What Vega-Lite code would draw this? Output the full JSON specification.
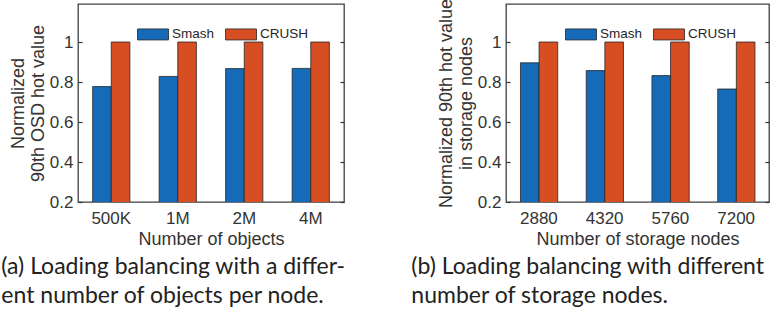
{
  "$schema": "https://vega.github.io/schema/vega-lite/v6.json",
  "padding": {"left": 0, "top": -3, "right": 5, "bottom": 0},
  "background": "white",
  "datasets": {
    "a": [
      {"cat": "500K", "method": "Smash", "v": 0.777},
      {"cat": "500K", "method": "CRUSH", "v": 1.0},
      {"cat": "1M", "method": "Smash", "v": 0.828},
      {"cat": "1M", "method": "CRUSH", "v": 1.0},
      {"cat": "2M", "method": "Smash", "v": 0.867},
      {"cat": "2M", "method": "CRUSH", "v": 1.0},
      {"cat": "4M", "method": "Smash", "v": 0.868},
      {"cat": "4M", "method": "CRUSH", "v": 1.0}
    ],
    "b": [
      {"cat": "2880", "method": "Smash", "v": 0.896},
      {"cat": "2880", "method": "CRUSH", "v": 1.0},
      {"cat": "4320", "method": "Smash", "v": 0.857},
      {"cat": "4320", "method": "CRUSH", "v": 1.0},
      {"cat": "5760", "method": "Smash", "v": 0.832},
      {"cat": "5760", "method": "CRUSH", "v": 1.0},
      {"cat": "7200", "method": "Smash", "v": 0.765},
      {"cat": "7200", "method": "CRUSH", "v": 1.0}
    ]
  },
  "config": {
    "font": "Liberation Sans",
    "view": {"stroke": "#404040", "strokeWidth": 1.3},
    "axis": {
      "labelFont": "Liberation Sans",
      "labelFontSize": 17,
      "labelColor": "#333333",
      "titleFont": "Liberation Sans",
      "titleFontSize": 18,
      "titleFontWeight": "normal",
      "titleColor": "#333333",
      "grid": false,
      "domain": false,
      "tickColor": "#333333",
      "tickSize": -4,
      "tickWidth": 1.2
    },
    "legend": {
      "orient": "none",
      "direction": "horizontal",
      "legendX": 59,
      "legendY": 14,
      "title": null,
      "symbolType": "M-1,-0.355H1V0.355H-1Z",
      "symbolSize": 961,
      "symbolStrokeColor": "#262626",
      "symbolStrokeWidth": 0.8,
      "symbolOpacity": 1,
      "labelFont": "Liberation Sans",
      "labelFontSize": 13.5,
      "labelColor": "#262626",
      "labelOffset": 3,
      "columnPadding": 8,
      "padding": 0
    },
    "title": {
      "font": "Lato",
      "fontSize": 23,
      "fontWeight": "normal",
      "color": "#222222",
      "lineHeight": 29
    }
  },
  "resolve": {"scale": {"color": "independent"}},
  "spacing": 63,
  "hconcat": [
    {
      "data": {"name": "a"},
      "width": 266,
      "height": 198,
      "title": {
        "text": ["(a) Loading balancing with a differ-", "ent number of objects per node."],
        "orient": "bottom",
        "anchor": "start",
        "frame": "bounds",
        "dx": -8,
        "offset": 8
      },
      "layer": [
        {
          "mark": {"type": "bar", "stroke": "#262626", "strokeWidth": 0.8, "clip": true},
          "encoding": {
            "x": {
              "field": "cat", "type": "nominal", "sort": ["500K", "1M", "2M", "4M"],
              "scale": {"paddingInner": 0.44, "paddingOuter": 0.22},
              "axis": {"title": "Number of objects", "labelAngle": 0, "ticks": false, "labelPadding": 8, "titlePadding": 4}
            },
            "xOffset": {"field": "method", "type": "nominal", "sort": ["Smash", "CRUSH"]},
            "y": {
              "field": "v", "type": "quantitative",
              "scale": {"domain": [0.2, 1.19], "nice": false, "zero": false},
              "axis": {"values": [0.2, 0.4, 0.6, 0.8, 1], "format": "~g", "title": ["Normalized", "90th OSD hot value"], "labelPadding": 9, "titlePadding": 2}
            },
            "color": {
              "field": "method", "type": "nominal", "sort": ["Smash", "CRUSH"],
              "scale": {"domain": ["Smash", "CRUSH"], "range": ["#156BB8", "#D74E23"]}
            }
          }
        },
        {
          "mark": {"type": "tick", "opacity": 0},
          "encoding": {
            "y": {
              "field": "v", "type": "quantitative",
              "scale": {"domain": [0.2, 1.19], "nice": false, "zero": false},
              "axis": {"orient": "right", "values": [0.2, 0.4, 0.6, 0.8, 1], "labels": false, "title": null}
            }
          }
        }
      ],
      "resolve": {"scale": {"y": "independent"}}
    },
    {
      "data": {"name": "b"},
      "width": 263,
      "height": 198,
      "title": {
        "text": ["(b) Loading balancing with different", "number of storage nodes."],
        "orient": "bottom",
        "anchor": "start",
        "frame": "bounds",
        "dx": -26,
        "offset": 8
      },
      "layer": [
        {
          "mark": {"type": "bar", "stroke": "#262626", "strokeWidth": 0.8, "clip": true},
          "encoding": {
            "x": {
              "field": "cat", "type": "nominal", "sort": ["2880", "4320", "5760", "7200"],
              "scale": {"paddingInner": 0.44, "paddingOuter": 0.22},
              "axis": {"title": "Number of storage nodes", "labelAngle": 0, "ticks": false, "labelPadding": 8, "titlePadding": 4}
            },
            "xOffset": {"field": "method", "type": "nominal", "sort": ["Smash", "CRUSH"]},
            "y": {
              "field": "v", "type": "quantitative",
              "scale": {"domain": [0.2, 1.19], "nice": false, "zero": false},
              "axis": {"values": [0.2, 0.4, 0.6, 0.8, 1], "format": "~g", "title": ["Normalized 90th hot value", "in storage nodes"], "labelPadding": 9, "titlePadding": 2}
            },
            "color": {
              "field": "method", "type": "nominal", "sort": ["Smash", "CRUSH"],
              "scale": {"domain": ["Smash", "CRUSH"], "range": ["#156BB8", "#D74E23"]}
            }
          }
        },
        {
          "mark": {"type": "tick", "opacity": 0},
          "encoding": {
            "y": {
              "field": "v", "type": "quantitative",
              "scale": {"domain": [0.2, 1.19], "nice": false, "zero": false},
              "axis": {"orient": "right", "values": [0.2, 0.4, 0.6, 0.8, 1], "labels": false, "title": null}
            }
          }
        }
      ],
      "resolve": {"scale": {"y": "independent"}}
    }
  ]
}
